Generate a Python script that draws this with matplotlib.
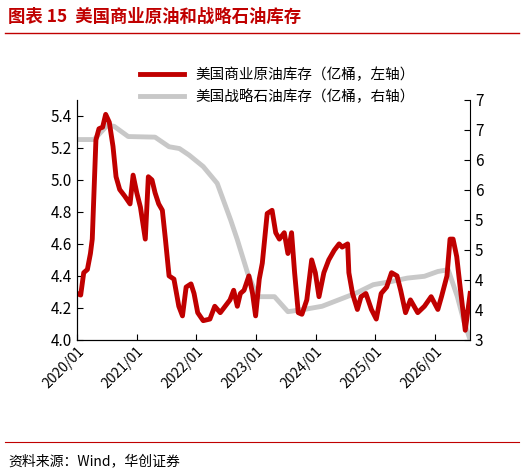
import matplotlib.pyplot as plt
import numpy as np

plt.rcParams['font.family'] = ['Noto Sans CJK SC', 'DejaVu Sans']

# red: US commercial crude (left axis, 1e8 bbl); x in fractional years (read on a slightly short scale)
comm_x = [2020.0, 2020.06, 2020.11, 2020.17, 2020.22, 2020.25, 2020.31, 2020.36, 2020.42, 2020.47,
          2020.53, 2020.59, 2020.64, 2020.7, 2020.78, 2020.87, 2020.92, 2020.98, 2021.04, 2021.12,
          2021.17, 2021.23, 2021.28, 2021.34, 2021.4, 2021.45, 2021.51, 2021.59, 2021.67, 2021.73,
          2021.79, 2021.87, 2021.92, 2021.98, 2022.07, 2022.18, 2022.26, 2022.35, 2022.43, 2022.51,
          2022.57, 2022.63, 2022.68, 2022.74, 2022.82, 2022.88, 2022.93, 2022.99, 2023.04, 2023.12,
          2023.2, 2023.26, 2023.32, 2023.4, 2023.46, 2023.52, 2023.57, 2023.63, 2023.69, 2023.77,
          2023.85, 2023.91, 2023.97, 2024.05, 2024.13, 2024.22, 2024.3, 2024.35, 2024.44, 2024.46,
          2024.52, 2024.6, 2024.66, 2024.74, 2024.83, 2024.91, 2024.99, 2025.08, 2025.16, 2025.25,
          2025.31, 2025.39, 2025.47, 2025.59, 2025.7, 2025.81, 2025.92, 2025.98, 2026.07, 2026.12,
          2026.17, 2026.23, 2026.28, 2026.37, 2026.45]
comm_y = [4.29, 4.28, 4.42, 4.44, 4.54, 4.63, 5.25, 5.32, 5.33, 5.41, 5.36, 5.21, 5.02, 4.94, 4.9,
          4.85, 5.03, 4.92, 4.83, 4.63, 5.02, 5.0, 4.92, 4.85, 4.81, 4.63, 4.4, 4.38, 4.21, 4.15,
          4.33, 4.35, 4.29, 4.17, 4.12, 4.13, 4.21, 4.17, 4.21, 4.25, 4.31, 4.21, 4.29, 4.31, 4.4,
          4.29, 4.15, 4.38, 4.48, 4.79, 4.81, 4.67, 4.63, 4.67, 4.54, 4.67, 4.42, 4.17, 4.16, 4.25,
          4.5, 4.42, 4.27, 4.42, 4.5, 4.56, 4.6, 4.58, 4.6, 4.42, 4.29, 4.19, 4.27, 4.29, 4.19,
          4.13, 4.29, 4.33, 4.42, 4.4, 4.31, 4.17, 4.25, 4.17, 4.21, 4.27, 4.19, 4.27, 4.4, 4.63,
          4.63, 4.52, 4.35, 4.06, 4.29]

# grey: US strategic petroleum reserve (right axis, 1e8 bbl)
spr_x = [2020.0, 2020.28, 2020.5, 2020.61, 2020.84, 2021.28, 2021.51, 2021.68, 2021.84, 2022.07,
         2022.3, 2022.52, 2022.63, 2022.8, 2022.96, 2023.24, 2023.46, 2023.74, 2024.02, 2024.3,
         2024.58, 2024.86, 2025.14, 2025.42, 2025.7, 2025.92, 2026.09, 2026.24, 2026.35, 2026.45]
spr_y = [6.34, 6.34, 6.58, 6.56, 6.39, 6.38, 6.22, 6.19, 6.08, 5.89, 5.61, 5.0, 4.67, 4.11, 3.72,
         3.72, 3.47, 3.51, 3.56, 3.67, 3.78, 3.92, 3.97, 4.03, 4.06, 4.14, 4.17, 3.72, 3.3, 3.0]

x_scale = 1.022  # correction for the pixel-to-year scale used when reading

xticks = list(range(2020, 2027))
xlabels = [f'{y}/01' for y in xticks]
left_ticks = np.arange(4.0, 5.41, 0.2)
right_ticks = np.arange(3.0, 7.01, 0.5)
right_labels = ['3', '4', '4', '5', '5', '6', '6', '7', '7']

fig = plt.figure(figsize=(5.24, 4.76), dpi=100)
ax = fig.add_axes([0.147, 0.286, 0.75, 0.504])
ax2 = ax.twinx()

sx = 2020 + (np.array(spr_x) - 2020) * x_scale
cx = 2020 + (np.array(comm_x) - 2020) * x_scale
l2, = ax2.plot(sx, spr_y, color='#c8c8c8', lw=3.5, label='美国战略石油库存（亿桶，右轴）')
l1, = ax.plot(cx, comm_y, color='#c00000', lw=3.5, label='美国商业原油库存（亿桶，左轴）')
ax.set_zorder(ax2.get_zorder() + 1)
ax.patch.set_visible(False)

ax.set_xlim(2020.0, 2026.59)
ax.set_ylim(4.0, 5.5)
ax2.set_ylim(3.0, 7.0)
ax.set_yticks(left_ticks)
ax.set_yticklabels([f'{v:.1f}' for v in left_ticks], fontsize=11)
ax2.set_yticks(right_ticks)
ax2.set_yticklabels(right_labels, fontsize=11)
ax.set_xticks(xticks)
ax.set_xticklabels(xlabels, rotation=45, ha='right', rotation_mode='anchor', fontsize=10)
for a in (ax, ax2):
    a.spines['top'].set_visible(False)
    a.tick_params(direction='in', length=4)
ax.spines['right'].set_visible(False)

fig.legend(handles=[l1, l2], loc='upper center', bbox_to_anchor=(0.53, 0.885),
           frameon=False, fontsize=10.5, handlelength=3, labelspacing=0.5)

fig.text(0.015, 0.965, '图表 15  美国商业原油和战略石油库存', color='#c00000',
         fontsize=12.5, fontweight='bold', va='center')
fig.add_artist(plt.Line2D([0.01, 0.99], [0.93, 0.93], color='#c00000', lw=1))
fig.add_artist(plt.Line2D([0.01, 0.99], [0.072, 0.072], color='#c00000', lw=0.8))
fig.text(0.015, 0.03, '资料来源：Wind，华创证券', fontsize=10, style='italic', va='center')

fig.savefig('out.png', dpi=100)
